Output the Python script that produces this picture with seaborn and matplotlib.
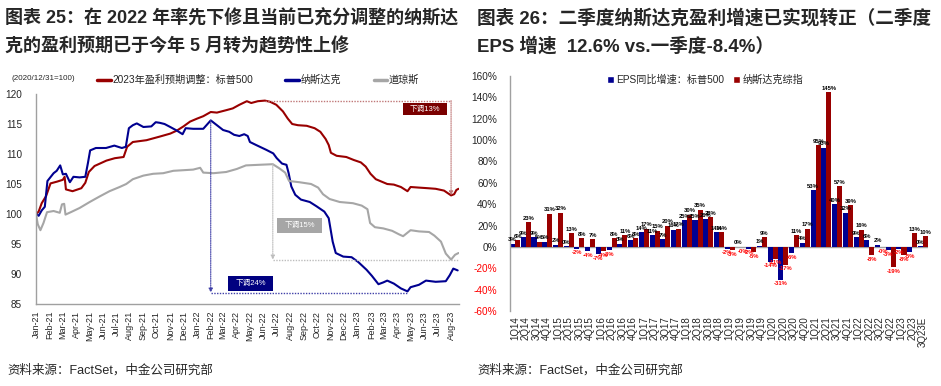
"""Two-panel chart: EPS revision index lines (left) and quarterly EPS growth bars (right)."""

import matplotlib
matplotlib.use("Agg")
import matplotlib.pyplot as plt
import matplotlib.dates as mdates
from matplotlib.lines import Line2D
from matplotlib.patches import Patch, Rectangle
import pandas as pd
import seaborn as sns

sns.set_theme(style="white")
plt.rcParams["font.family"] = ["Liberation Sans", "Noto Sans CJK SC", "DejaVu Sans"]
plt.rcParams["axes.unicode_minus"] = False

# ---------------- left panel data (2020/12/31 = 100) ----------------
sp500_dates = [
    "2020-12-31", "2021-01-06", "2021-01-13", "2021-01-23", "2021-02-02", "2021-02-17",
    "2021-03-02", "2021-03-06", "2021-03-09", "2021-03-24", "2021-04-13", "2021-04-22",
    "2021-04-30", "2021-05-13", "2021-06-09", "2021-06-28", "2021-07-18", "2021-07-26",
    "2021-08-08", "2021-09-08", "2021-10-08", "2021-11-01", "2021-11-16", "2021-12-01",
    "2021-12-16", "2022-01-01", "2022-01-15", "2022-02-01", "2022-02-15", "2022-03-08",
    "2022-03-23", "2022-04-07", "2022-04-24", "2022-05-04", "2022-05-19", "2022-06-04",
    "2022-06-16", "2022-06-30", "2022-07-15", "2022-07-26", "2022-08-05", "2022-08-18",
    "2022-09-07", "2022-09-25", "2022-10-08", "2022-10-20", "2022-10-27", "2022-11-01",
    "2022-11-14", "2022-12-06", "2022-12-23", "2023-01-08", "2023-01-19", "2023-01-30",
    "2023-02-11", "2023-02-24", "2023-03-09", "2023-03-24", "2023-04-09", "2023-04-24",
    "2023-05-01", "2023-05-20", "2023-06-09", "2023-06-27", "2023-07-16", "2023-08-01",
    "2023-08-08", "2023-08-13", "2023-08-18",
]
sp500_vals = [
    100.0, 100.4, 101.8, 103.0, 105.1, 105.4,
    105.7, 106.2, 104.1, 103.8, 104.3, 105.2,
    107.0, 108.0, 108.9, 109.3, 109.5, 111.2,
    112.0, 112.3, 112.9, 113.4, 113.9, 114.6,
    115.4, 115.9, 116.3, 117.0, 116.9, 117.3,
    117.6, 118.2, 118.8, 118.5, 118.8, 118.9,
    118.7, 118.2, 117.1, 115.9, 115.0, 114.8,
    114.7, 114.3, 113.7, 112.5, 111.5, 110.2,
    109.7, 109.5, 109.0, 108.6, 107.9, 106.7,
    105.8, 105.4, 105.0, 104.9, 104.5, 103.8,
    104.5, 104.4, 104.3, 104.2, 103.9, 103.1,
    103.3, 104.0, 104.2,
]

nasdaq_dates = [
    "2020-12-31", "2021-01-06", "2021-01-13", "2021-01-20", "2021-01-26", "2021-02-09",
    "2021-02-16", "2021-02-24", "2021-03-02", "2021-03-09", "2021-03-18", "2021-03-26",
    "2021-04-09", "2021-04-22", "2021-04-28", "2021-05-03", "2021-05-16", "2021-06-08",
    "2021-06-27", "2021-07-14", "2021-07-23", "2021-07-30", "2021-08-08", "2021-08-17",
    "2021-09-01", "2021-09-19", "2021-09-29", "2021-10-08", "2021-10-19", "2021-11-01",
    "2021-11-16", "2021-11-29", "2021-12-06", "2021-12-23", "2022-01-15", "2022-02-01",
    "2022-02-15", "2022-03-01", "2022-03-15", "2022-03-26", "2022-04-07", "2022-04-18",
    "2022-04-26", "2022-05-01", "2022-05-15", "2022-06-07", "2022-06-23", "2022-07-01",
    "2022-07-13", "2022-07-23", "2022-07-28", "2022-08-03", "2022-08-12", "2022-08-25",
    "2022-09-14", "2022-09-29", "2022-10-17", "2022-10-27", "2022-11-05", "2022-11-12",
    "2022-11-29", "2022-12-18", "2023-01-02", "2023-01-21", "2023-02-02", "2023-02-17",
    "2023-02-28", "2023-03-09", "2023-03-24", "2023-04-09", "2023-04-24", "2023-05-01",
    "2023-05-20", "2023-06-05", "2023-06-27", "2023-07-20", "2023-07-29", "2023-08-06",
    "2023-08-16",
]
nasdaq_vals = [
    100.0, 99.7, 100.6, 101.2, 105.5, 106.8,
    107.2, 108.1, 106.6, 106.7, 105.3, 106.2,
    106.1, 106.2, 108.5, 110.6, 111.0, 111.0,
    111.4, 111.0, 111.2, 114.3, 114.8, 115.1,
    114.5, 114.6, 115.3, 115.2, 115.0, 114.5,
    113.9, 113.3, 114.3, 114.2, 114.2, 115.6,
    114.8, 114.0, 113.7, 113.2, 113.0, 113.3,
    113.0, 112.0, 111.5, 110.7, 110.1, 109.3,
    108.4, 108.2, 106.8, 104.6, 103.2, 102.4,
    102.0, 101.3, 100.4, 99.3, 95.4, 93.5,
    92.9, 92.8, 92.0, 90.7, 89.7, 88.3,
    88.6, 88.9, 88.4, 87.6, 87.1, 87.8,
    88.2, 88.9, 88.7, 88.8, 89.8, 90.9,
    90.6,
]

dow_dates = [
    "2020-12-31", "2021-01-04", "2021-01-10", "2021-01-17", "2021-01-25", "2021-02-09",
    "2021-02-23", "2021-02-28", "2021-03-05", "2021-03-08", "2021-03-20", "2021-04-09",
    "2021-05-02", "2021-05-24", "2021-06-16", "2021-07-09", "2021-07-24", "2021-08-08",
    "2021-09-01", "2021-09-23", "2021-10-16", "2021-11-08", "2021-12-01", "2021-12-23",
    "2022-01-08", "2022-01-15", "2022-02-07", "2022-03-08", "2022-04-01", "2022-04-22",
    "2022-05-22", "2022-06-22", "2022-07-07", "2022-07-20", "2022-07-29", "2022-08-21",
    "2022-09-17", "2022-10-03", "2022-10-14", "2022-10-29", "2022-11-21", "2022-12-21",
    "2023-01-10", "2023-01-23", "2023-01-29", "2023-02-09", "2023-02-28", "2023-03-20",
    "2023-04-05", "2023-04-14", "2023-05-01", "2023-05-20", "2023-06-12", "2023-06-24",
    "2023-07-09", "2023-07-20", "2023-08-01", "2023-08-10", "2023-08-18",
]
dow_vals = [
    100.0, 98.3, 97.3, 98.5, 100.3, 100.5,
    100.2, 101.6, 101.7, 99.9, 100.3, 101.0,
    102.0, 102.9, 103.8, 104.5, 105.0, 105.8,
    106.4, 106.7, 106.8, 107.2, 107.3, 107.4,
    107.7, 106.9, 106.8, 107.0, 107.5, 108.1,
    108.2, 108.3, 107.6, 106.9, 105.5, 105.3,
    105.0, 104.4, 103.3, 102.5, 102.0, 101.8,
    101.4, 100.8, 98.5, 97.8, 97.6, 97.2,
    96.6, 96.3, 97.3, 97.1, 97.0, 96.4,
    95.4, 93.4, 92.4, 93.2, 93.5,
]

line_labels = ["2023年盈利预期调整：标普500", "纳斯达克", "道琼斯"]
drop_labels = ["下调13%", "下调24%", "下调15%"]

# ---------------- right panel data (YoY EPS growth, %) ----------------
quarters = [
    "1Q14", "2Q14", "3Q14", "4Q14", "1Q15", "2Q15", "3Q15", "4Q15",
    "1Q16", "2Q16", "3Q16", "4Q16", "1Q17", "2Q17", "3Q17", "4Q17",
    "1Q18", "2Q18", "3Q18", "4Q18", "1Q19", "2Q19", "3Q19", "4Q19",
    "1Q20", "2Q20", "3Q20", "4Q20", "1Q21", "2Q21", "3Q21", "4Q21",
    "1Q22", "2Q22", "3Q22", "4Q22", "1Q23", "2Q23", "3Q23E",
]
sp500_eps = [
    3, 9, 9, 5, 2, 0.4, -2, -4,
    -7, -3, 3, 6, 14, 11, 7, 16,
    25, 25, 26, 14, -1.5, 0.3, -2, 1,
    -14, -31, -6, 4, 53, 93, 40, 32,
    9, 6, 2, -3, -2, -5, 0.4,
]
nasdaq_eps = [
    6, 23, 5, 31, 32, 13, 8, 7,
    -4, 8, 11, 8, 17, 15, 20, 17,
    30, 35, 28, 14, -3, -0.3, -5, 9,
    -11, -17, 11, 17, 95, 145, 57, 39,
    16, -8, -0.5, -19, -8, 13, 10,
]
bar_labels = ["EPS同比增速：标普500", "纳斯达克综指"]

RED = "#990000"
BLUE = "#000090"
GRAY = "#A6A6A6"
SPINE = "#A0A0A0"


def series_frame(dates, vals):
    return pd.DataFrame({"date": pd.to_datetime(dates), "value": vals})


def drop_box(ax, x0, y0, x1, y1, color, text):
    ax.add_patch(Rectangle((x0, y0), x1 - x0, y1 - y0, transform=ax.transAxes,
                           facecolor=color, edgecolor="none", zorder=5))
    ax.text((x0 + x1) / 2, (y0 + y1) / 2, text, transform=ax.transAxes, ha="center",
            va="center", color="white", fontsize=5.5, zorder=6)


def arrow_down(ax, x, y_from, y_to, color):
    ax.annotate("", xy=(x, y_to), xytext=(x, y_from),
                arrowprops=dict(arrowstyle="-|>", color=color, lw=0.8, ls=(0, (1, 1)),
                                mutation_scale=6, shrinkA=0, shrinkB=0))


def draw_left(fig):
    ax = fig.add_axes([36 / 941, 1 - 304 / 386, 423 / 941, 210 / 386])
    sp = series_frame(sp500_dates, sp500_vals)
    nq = series_frame(nasdaq_dates, nasdaq_vals)
    dj = series_frame(dow_dates, dow_vals)

    sns.lineplot(data=sp, x="date", y="value", color=RED, lw=1.5, ax=ax)
    sns.lineplot(data=nq, x="date", y="value", color=BLUE, lw=1.5, ax=ax)
    sns.lineplot(data=dj, x="date", y="value", color=GRAY, lw=1.5, ax=ax)

    x_end = pd.Timestamp("2023-08-19")
    ax.set_xlim(pd.Timestamp("2020-12-31"), x_end)
    ax.set_ylim(85, 120)
    ax.set_yticks(range(85, 121, 5))
    ax.xaxis.set_major_locator(mdates.MonthLocator())
    ax.xaxis.set_major_formatter(mdates.DateFormatter("%b-%y"))
    ax.set_xlabel("")
    ax.set_ylabel("")
    for s in ["top", "right"]:
        ax.spines[s].set_visible(False)
    for s in ["left", "bottom"]:
        ax.spines[s].set_color(SPINE)
        ax.spines[s].set_linewidth(1)
    ax.tick_params(axis="x", direction="out", length=3, width=0.8, color=SPINE,
                   labelsize=6.5, rotation=90, pad=2)
    ax.tick_params(axis="y", direction="in", length=3, width=0.8, color=SPINE,
                   labelsize=7.2, pad=10)
    ax.grid(False)

    # peak-to-trough guides
    i_pk = sp["value"].idxmax()
    pk_d, pk_v = sp.loc[i_pk, "date"], sp.loc[i_pk, "value"]
    after = sp.loc[i_pk:]
    i_lo = after["value"].idxmin()
    lo_d, lo_v = sp.loc[i_lo, "date"], sp.loc[i_lo, "value"]
    ax.plot([pk_d, lo_d], [pk_v, pk_v], color="#C07878", lw=1, ls=(0, (1, 1)))
    arrow_down(ax, lo_d, pk_v, lo_v, "#C07878")

    i_pk = nq["value"].idxmax()
    pk_d, pk_v = nq.loc[i_pk, "date"], nq.loc[i_pk, "value"]
    after = nq.loc[i_pk:]
    i_lo = after["value"].idxmin()
    lo_d, lo_v = nq.loc[i_lo, "date"], nq.loc[i_lo, "value"]
    ax.plot([pk_d, lo_d], [lo_v - 0.3, lo_v - 0.3], color="#4040A8", lw=1, ls=(0, (1, 1)))
    arrow_down(ax, pk_d, pk_v, lo_v - 0.2, "#4040A8")

    i_pk = dj["value"].idxmax()
    pk_d, pk_v = dj.loc[i_pk, "date"], dj.loc[i_pk, "value"]
    after = dj.loc[i_pk:]
    lo_v = after["value"].min()
    ax.plot([pk_d, x_end], [lo_v, lo_v], color="#BDBDBD", lw=1, ls=(0, (1, 1)))
    arrow_down(ax, pk_d, pk_v, lo_v, "#BDBDBD")

    drop_box(ax, 0.868, 0.900, 0.972, 0.957, "#7A0000", drop_labels[0])
    drop_box(ax, 0.454, 0.062, 0.560, 0.133, "#000080", drop_labels[1])
    drop_box(ax, 0.570, 0.338, 0.676, 0.410, GRAY, drop_labels[2])

    handles = [Line2D([], [], color=c, lw=2.5) for c in (RED, BLUE, GRAY)]
    fig.legend(handles, line_labels, loc="center left", bbox_to_anchor=(97 / 941, 1 - 80 / 386),
               ncol=3, frameon=False, fontsize=7.3, handlelength=1.35, handletextpad=0.15,
               columnspacing=3.2, borderpad=0, borderaxespad=0)
    fig.text(12 / 941, 1 - 79 / 386, "(2020/12/31=100)", fontsize=5.8, va="center")


def draw_right(fig):
    ax = fig.add_axes([510 / 941, 1 - 311 / 386, 418 / 941, 235 / 386])
    df = pd.DataFrame({
        "quarter": quarters * 2,
        "series": [bar_labels[0]] * len(quarters) + [bar_labels[1]] * len(quarters),
        "value": sp500_eps + nasdaq_eps,
    })
    sns.barplot(data=df, x="quarter", y="value", hue="series", order=quarters,
                hue_order=bar_labels, palette=[BLUE, RED], width=0.94, gap=0,
                saturation=1, legend=False, edgecolor="none", linewidth=0, ax=ax)

    for container, vals in zip(ax.containers, (sp500_eps, nasdaq_eps)):
        for bar, v in zip(container, vals):
            x = bar.get_x() + bar.get_width() / 2
            if v >= 0:
                ax.annotate(f"{v:.0f}%", (x, v), xytext=(0, 1), textcoords="offset points",
                            ha="center", va="bottom", fontsize=4.2, color="black",
                            fontweight="bold")
            else:
                ax.annotate(f"{v:.0f}%", (x, v), xytext=(0, -1), textcoords="offset points",
                            ha="center", va="top", fontsize=4.2, color="#FF0000",
                            fontweight="bold")

    ax.axhline(0, color=SPINE, lw=1, zorder=0.5)
    ax.set_xlim(-0.47, len(quarters) - 0.53)
    ax.set_ylim(-60, 160)
    ax.set_yticks(range(-60, 161, 20))
    ax.set_yticklabels([f"{t}%" for t in range(-60, 161, 20)])
    for lab, t in zip(ax.get_yticklabels(), range(-60, 161, 20)):
        if t < 0:
            lab.set_color("#FF0000")
    ax.set_xlabel("")
    ax.set_ylabel("")
    for s in ["top", "right", "bottom"]:
        ax.spines[s].set_visible(False)
    ax.spines["left"].set_color(SPINE)
    ax.spines["left"].set_linewidth(1)
    ax.tick_params(axis="x", length=0, labelsize=7, rotation=90, pad=4)
    ax.tick_params(axis="y", direction="in", length=3, width=0.8, color=SPINE,
                   labelsize=7.2, pad=9)
    ax.grid(False)

    handles = [Patch(facecolor=BLUE), Patch(facecolor=RED)]
    fig.legend(handles, bar_labels, loc="center left", bbox_to_anchor=(607 / 941, 1 - 80 / 386),
               ncol=2, frameon=False, fontsize=7.3, handlelength=0.7, handleheight=0.7,
               handletextpad=0.2, columnspacing=0.9, borderpad=0, borderaxespad=0)


def main():
    fig = plt.figure(figsize=(9.41, 3.86), dpi=100)
    fig.patch.set_facecolor("white")

    left_kw = dict(fontsize=13.0, fontweight="bold", va="center")
    right_kw = dict(fontsize=13.4, fontweight="bold", va="center")
    fig.text(5 / 941, 1 - 18 / 386, "图表 25：在 2022 年率先下修且当前已充分调整的纳斯达", **left_kw)
    fig.text(5 / 941, 1 - 46 / 386, "克的盈利预期已于今年 5 月转为趋势性上修", **left_kw)
    fig.text(477 / 941, 1 - 18 / 386, "图表 26：二季度纳斯达克盈利增速已实现转正（二季度", **right_kw)
    fig.text(477 / 941, 1 - 46 / 386, "EPS 增速  12.6% vs.一季度-8.4%）", **right_kw)

    draw_left(fig)
    draw_right(fig)

    fig.text(7 / 941, 1 - 370 / 386, "资料来源：FactSet，中金公司研究部", fontsize=9, va="center")
    fig.text(477 / 941, 1 - 370 / 386, "资料来源：FactSet，中金公司研究部", fontsize=9, va="center")

    fig.savefig("out.png", dpi=100, facecolor="white")
    plt.close(fig)


if __name__ == "__main__":
    main()
